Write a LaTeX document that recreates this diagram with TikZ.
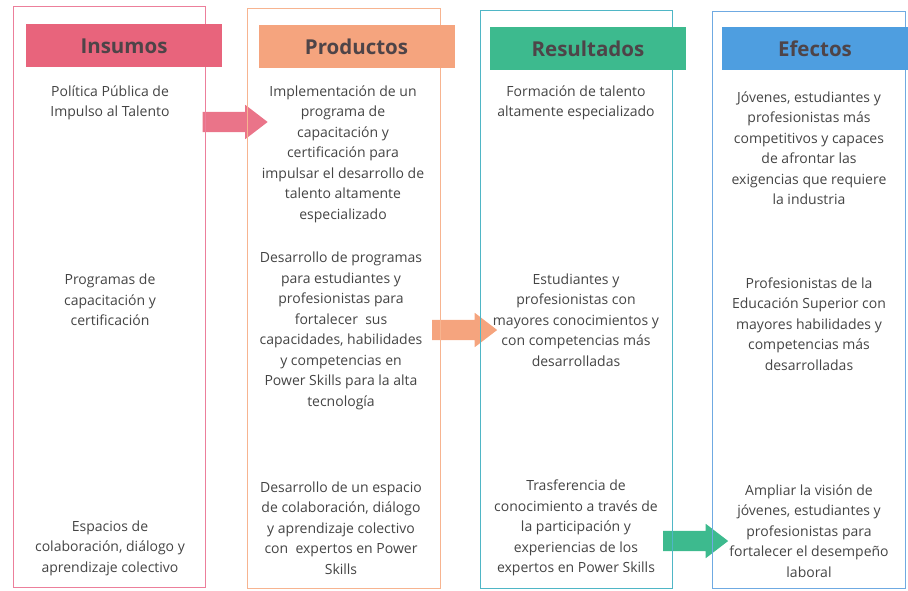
\documentclass[tikz,border=0pt]{standalone}
\usepackage{fontspec}
\setmainfont{Open Sans}
\usetikzlibrary{shapes.arrows}
\definecolor{insumo}{HTML}{E8647C}
\definecolor{insumoline}{HTML}{EC7F9B}
\definecolor{producto}{HTML}{F5A47E}
\definecolor{productoline}{HTML}{F7B490}
\definecolor{resultado}{HTML}{3DBA8E}
\definecolor{resultadoline}{HTML}{4FB6C6}
\definecolor{efecto}{HTML}{4E9EE0}
\definecolor{efectoline}{HTML}{6FAAE2}
\definecolor{headtext}{HTML}{4E4448}
\definecolor{bodytext}{HTML}{444444}

\begin{document}
\begin{tikzpicture}[x=1pt,y=-1pt,
column/.style={draw, line width=1pt},
header/.style={minimum width=196pt, minimum height=43pt, inner sep=0pt, text=headtext,
	font=\fontsize{20.5}{23}\selectfont\bfseries},
cell/.style={align=center, text=bodytext, font=\fontsize{14}{20.5}\selectfont},
flecha/.style={single arrow, inner sep=10pt, minimum height=65pt,
	single arrow head extend=7pt, single arrow tip angle=75}]
\useasboundingbox (0,0) rectangle (908,591);
% flechas entre columnas
\node[flecha, fill=insumo!90] (f1) at (228.5,122) {};
\node[flecha, fill=producto] (f2) at (458,330) {};
\node[flecha, fill=resultado] (f3) at (689,541) {};
% columnas
\draw[column, insumoline] (13,7) rectangle (205,587);
\draw[column, productoline] (247,9) rectangle (440,588);
\draw[column, resultadoline] (480,11) rectangle (672,588);
\draw[column, efectoline] (712,12) rectangle (905,588);
% encabezados
\node[header, fill=insumo] (insumos) at (124,46) {Insumos};
\node[header, fill=producto] (productos) at (356.5,46.5) {Productos};
\node[header, fill=resultado] (resultados) at (588,48.5) {Resultados};
\node[header, fill=efecto, minimum width=186pt] (efectos) at (815,49) {Efectos};
% insumos
\node[cell] (i1) at (110,103) {Política Pública de\\Impulso al Talento};
\node[cell] (i2) at (110,300) {Programas de\\capacitación y\\certificación};
\node[cell] (i3) at (110,548) {Espacios de\\colaboración, diálogo y\\aprendizaje colectivo};
% productos
\node[cell] (p1) at (343,154) {Implementación de un\\programa de\\capacitación y\\certificación para\\impulsar el desarrollo de\\talento altamente\\especializado};
\node[cell] (p2) at (341,331) {Desarrollo de programas\\para estudiantes y\\profesionistas para\\fortalecer\ \ sus\\capacidades, habilidades\\y competencias en\\Power Skills para la alta\\tecnología};
\node[cell] (p3) at (341,528) {Desarrollo de un espacio\\de colaboración, diálogo\\y aprendizaje colectivo\\con\ \ expertos en Power\\Skills};
% resultados
\node[cell] (r1) at (576,103) {Formación de talento\\altamente especializado};
\node[cell] (r2) at (576,320) {Estudiantes y\\profesionistas con\\mayores conocimientos y\\con competencias más\\desarrolladas};
\node[cell] (r3) at (576,528) {Trasferencia de\\conocimiento a través de\\la participación y\\experiencias de los\\expertos en Power Skills};
% efectos
\node[cell] (e1) at (809,148) {Jóvenes, estudiantes y\\profesionistas más\\competitivos y capaces\\de afrontar las\\exigencias que requiere\\la industria};
\node[cell] (e2) at (809,324) {Profesionistas de la\\Educación Superior con\\mayores habilidades y\\competencias más\\desarrolladas};
\node[cell] (e3) at (809,531) {Ampliar la visión de\\jóvenes, estudiantes y\\profesionistas para\\fortalecer el desempeño\\laboral};
\end{tikzpicture}
\end{document}
